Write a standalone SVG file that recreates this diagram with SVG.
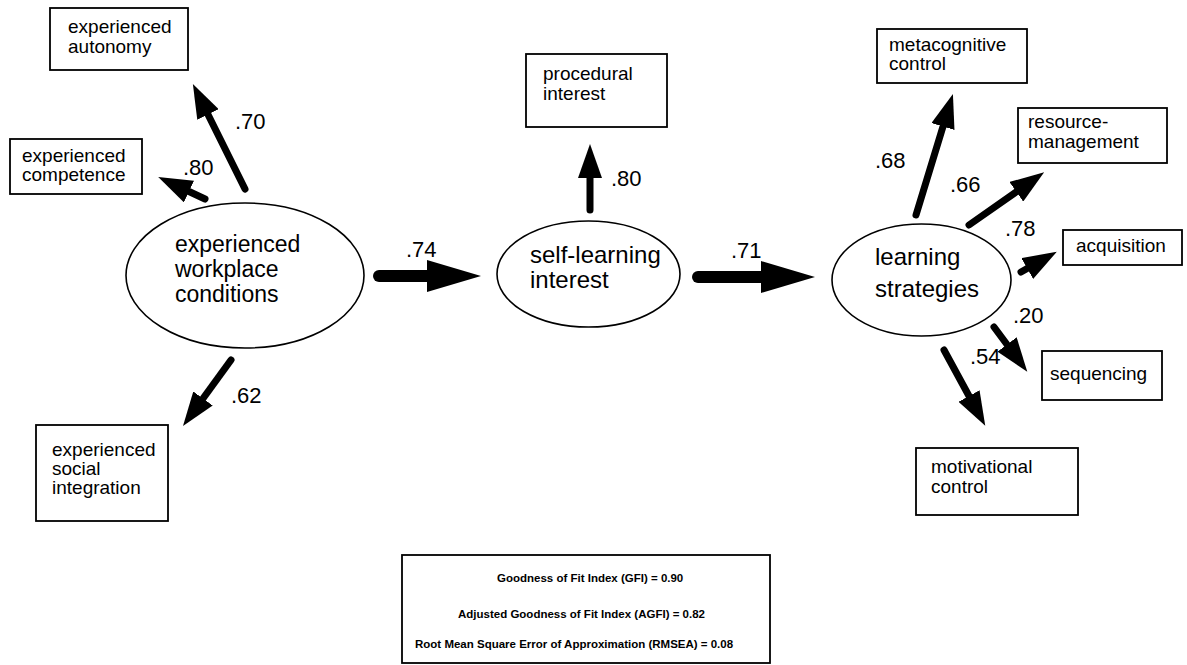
<svg xmlns="http://www.w3.org/2000/svg" width="1187" height="665" viewBox="0 0 1187 665">
<style>
text{font-family:"Liberation Sans",Arial,Helvetica,sans-serif;fill:#000}
.box{fill:#fff;stroke:#000;stroke-width:1.8}
.ell{fill:#fff;stroke:#000;stroke-width:1.6}
.bt{font-size:19px}
.et{font-size:24px}
.et1{font-size:23px}
.lb{font-size:22px}
.fit{font-size:11.5px;font-weight:bold}
.ln{stroke:#000;stroke-width:7;stroke-linecap:round;fill:none}
.big{stroke:#000;stroke-width:12;stroke-linecap:round;fill:none}
</style>
<defs>
<marker id="hs" viewBox="0 -12 34 24" markerWidth="34" markerHeight="24" refX="0" refY="0" orient="auto" markerUnits="userSpaceOnUse">
<path d="M0,-12 L34,0 L0,12 z" fill="#000"/>
</marker>
<marker id="hb" viewBox="0 -16 54 32" markerWidth="54" markerHeight="32" refX="0" refY="0" orient="auto" markerUnits="userSpaceOnUse">
<path d="M0,-16 L54,0 L0,16 z" fill="#000"/>
</marker>
</defs>
<rect width="1187" height="665" fill="#fff"/>

<g id="connectors">
<line class="ln" x1="245" y1="189" x2="208" y2="114.5" marker-end="url(#hs)"/>
<line class="ln" x1="205" y1="199" x2="189" y2="191.5" marker-end="url(#hs)"/>
<line class="ln" x1="231" y1="360" x2="203" y2="398.5" marker-end="url(#hs)"/>
<line class="ln" x1="590" y1="210" x2="590" y2="178" marker-end="url(#hs)"/>
<line class="big" x1="379" y1="276" x2="427" y2="276" marker-end="url(#hb)"/>
<line class="big" x1="698" y1="277" x2="761" y2="277" marker-end="url(#hb)"/>
<line class="ln" x1="916" y1="215" x2="943" y2="126.5" marker-end="url(#hs)"/>
<line class="ln" x1="969" y1="225" x2="1016.3" y2="191.8" marker-end="url(#hs)"/>
<line class="ln" x1="1021" y1="272" x2="1027.2" y2="268.5" marker-end="url(#hs)"/>
<line class="ln" x1="994" y1="327" x2="1007" y2="344.5" marker-end="url(#hs)"/>
<line class="ln" x1="944" y1="350" x2="969" y2="396" marker-end="url(#hs)"/>
</g>

<g id="labels">
<text class="lb" x="235" y="129">.70</text>
<text class="lb" x="183" y="175">.80</text>
<text class="lb" x="231" y="403">.62</text>
<text class="lb" x="611" y="186">.80</text>
<text class="lb" x="406" y="257">.74</text>
<text class="lb" x="731" y="258">.71</text>
<text class="lb" x="875" y="168">.68</text>
<text class="lb" x="950" y="192">.66</text>
<text class="lb" x="1005" y="236">.78</text>
<text class="lb" x="1013" y="323">.20</text>
<text class="lb" x="970" y="364">.54</text>
</g>

<g id="experienced-autonomy">
<rect class="box" x="50" y="8" width="138" height="62"/>
<text class="bt" x="68" y="33">experienced</text>
<text class="bt" x="68" y="53">autonomy</text>
</g>
<g id="experienced-competence">
<rect class="box" x="10" y="139" width="132" height="55"/>
<text class="bt" x="22" y="162">experienced</text>
<text class="bt" x="22" y="181">competence</text>
</g>
<g id="experienced-social-integration">
<rect class="box" x="36" y="425" width="132" height="96"/>
<text class="bt" x="52" y="456">experienced</text>
<text class="bt" x="52" y="475">social</text>
<text class="bt" x="52" y="494">integration</text>
</g>
<g id="experienced-workplace-conditions">
<ellipse class="ell" cx="245" cy="275.5" rx="119" ry="72.5"/>
<text class="et1" x="175" y="252">experienced</text>
<text class="et1" x="175" y="277">workplace</text>
<text class="et1" x="175" y="302">conditions</text>
</g>
<g id="procedural-interest">
<rect class="box" x="526" y="54" width="141" height="73"/>
<text class="bt" x="543" y="80">procedural</text>
<text class="bt" x="543" y="100">interest</text>
</g>
<g id="self-learning-interest">
<ellipse class="ell" cx="588.5" cy="274" rx="91.5" ry="53"/>
<text class="et" x="530" y="263">self-learning</text>
<text class="et" x="530" y="288">interest</text>
</g>
<g id="learning-strategies">
<ellipse class="ell" cx="921.5" cy="280" rx="89.5" ry="56"/>
<text class="et" x="875" y="265">learning</text>
<text class="et" x="875" y="297">strategies</text>
</g>
<g id="metacognitive-control">
<rect class="box" x="877" y="29" width="150" height="54"/>
<text class="bt" x="889" y="51">metacognitive</text>
<text class="bt" x="889" y="70">control</text>
</g>
<g id="resource-management">
<rect class="box" x="1018" y="108" width="149" height="55"/>
<text class="bt" x="1028" y="128">resource-</text>
<text class="bt" x="1028" y="148">management</text>
</g>
<g id="acquisition">
<rect class="box" x="1063" y="230" width="119" height="35"/>
<text class="bt" x="1076" y="252">acquisition</text>
</g>
<g id="sequencing">
<rect class="box" x="1042" y="351" width="120" height="49"/>
<text class="bt" x="1050" y="380">sequencing</text>
</g>
<g id="motivational-control">
<rect class="box" x="916" y="448" width="162" height="67"/>
<text class="bt" x="931" y="473">motivational</text>
<text class="bt" x="931" y="493">control</text>
</g>
<g id="fit-indices">
<rect class="box" x="402" y="555" width="368" height="108"/>
<text class="fit" x="497" y="582">Goodness of Fit Index (GFI) = 0.90</text>
<text class="fit" x="458" y="618">Adjusted Goodness of Fit Index (AGFI) = 0.82</text>
<text class="fit" x="415" y="648">Root Mean Square Error of Approximation (RMSEA) = 0.08</text>
</g>
</svg>
